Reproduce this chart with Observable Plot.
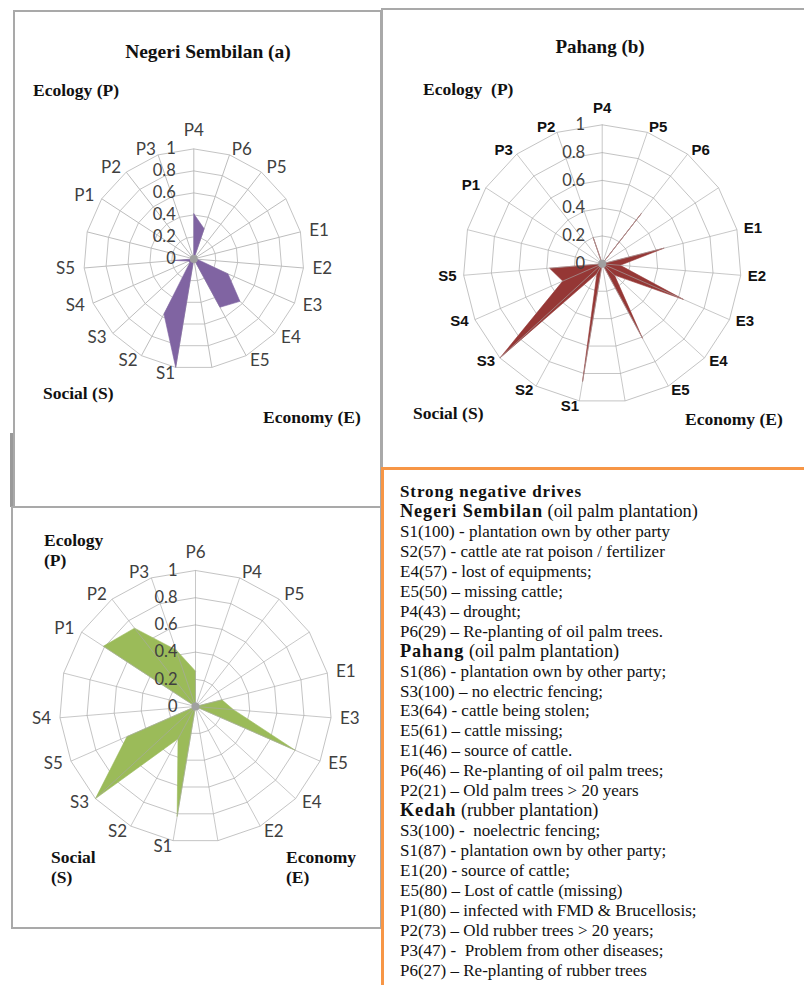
<!DOCTYPE html>
<html><head><meta charset="utf-8">
<script src="https://cdn.jsdelivr.net/npm/d3@7"></script>
<script src="https://cdn.jsdelivr.net/npm/@observablehq/plot@0.6"></script>
<style>
html,body{margin:0;padding:0;background:#fff;}
body{width:804px;height:985px;position:relative;overflow:hidden;}
.abs{position:absolute;}
.serifb{font-family:"Liberation Serif","Times New Roman",serif;font-weight:bold;color:#111;white-space:nowrap;line-height:20px;}
#notes{position:absolute;left:400px;top:482px;font-family:"Liberation Serif","Times New Roman",serif;font-size:17px;line-height:19.95px;color:#111;white-space:nowrap;}
#notes .h{font-size:18.3px;}
#notes b{letter-spacing:0.9px;}
svg{position:absolute;}
</style></head>
<body>
<div class="abs" style="left:13px;top:10px;width:365px;height:494px;border:2px solid #a9a9a9;"></div>
<div class="abs" style="left:10px;top:433px;width:3px;height:74px;background:#9a9a9a;"></div>
<div class="abs" style="left:11px;top:506px;width:367px;height:419px;border:2px solid #a9a9a9;"></div>
<div class="abs" style="left:381px;top:8px;width:430px;height:470px;border-left:2px solid #a9a9a9;border-top:2px solid #a9a9a9;"></div>
<div class="abs" style="left:381px;top:467px;width:430px;height:530px;border-left:3px solid #F79646;border-top:3px solid #F79646;"></div>
<div id="charts"></div>

<div class="abs serifb" style="left:208px;top:42px;font-size:19.5px;transform:translateX(-50%);">Negeri Sembilan (a)</div>
<div class="abs serifb" style="left:33px;top:80px;font-size:17.5px;">Ecology (P)</div>
<div class="abs serifb" style="left:43px;top:383px;font-size:17.5px;">Social (S)</div>
<div class="abs serifb" style="left:263px;top:407px;font-size:17.5px;">Economy (E)</div>

<div class="abs serifb" style="left:600px;top:37px;font-size:19px;transform:translateX(-50%);">Pahang (b)</div>
<div class="abs serifb" style="left:423px;top:79px;font-size:17.5px;">Ecology&nbsp; (P)</div>
<div class="abs serifb" style="left:413px;top:403px;font-size:17.5px;">Social (S)</div>
<div class="abs serifb" style="left:685px;top:409px;font-size:17.5px;">Economy (E)</div>

<div class="abs serifb" style="left:44px;top:530px;font-size:17.5px;">Ecology<br>(P)</div>
<div class="abs serifb" style="left:51px;top:847px;font-size:17.5px;">Social<br>(S)</div>
<div class="abs serifb" style="left:286px;top:847px;font-size:17.5px;">Economy<br>(E)</div>

<div id="notes">
<div><b>Strong negative drives</b></div>
<div class="h"><b>Negeri Sembilan</b> (oil palm plantation)</div>
<div>S1(100) - plantation own by other party</div>
<div>S2(57) - cattle ate rat poison / fertilizer</div>
<div>E4(57) - lost of equipments;</div>
<div>E5(50) – missing cattle;</div>
<div>P4(43) – drought;</div>
<div>P6(29) – Re-planting of oil palm trees.</div>
<div class="h"><b>Pahang</b> (oil palm plantation)</div>
<div>S1(86) - plantation own by other party;</div>
<div>S3(100) – no electric fencing;</div>
<div>E3(64) - cattle being stolen;</div>
<div>E5(61) – cattle missing;</div>
<div>E1(46) – source of cattle.</div>
<div>P6(46) – Re-planting of oil palm trees;</div>
<div>P2(21) – Old palm trees &gt; 20 years</div>
<div class="h"><b>Kedah</b> (rubber plantation)</div>
<div>S3(100) -&nbsp; noelectric fencing;</div>
<div>S1(87) - plantation own by other party;</div>
<div>E1(20) - source of cattle;</div>
<div>E5(80) – Lost of cattle (missing)</div>
<div>P1(80) – infected with FMD &amp; Brucellosis;</div>
<div>P2(73) – Old rubber trees &gt; 20 years;</div>
<div>P3(47) -&nbsp; Problem from other diseases;</div>
<div>P6(27) – Re-planting of rubber trees</div>
</div>

<script>
// ---- data ----
const ticks = [0, 0.2, 0.4, 0.6, 0.8, 1];
const tickLabels = ["0", "0.2", "0.4", "0.6", "0.8", "1"];

// Negeri Sembilan (a)
const axesA = ["P4","P6","P5","","E1","E2","E3","E4","E5","","S1","S2","S3","S4","S5","","P1","P2","P3"];
const valuesA = [0.41,0.29,0,0,0,0.03,0.34,0.57,0.50,0,1.0,0.57,0.05,0.05,0.17,0,0,0,0];

// Pahang (b)
const axesB = ["P4","P5","P6","","E1","E2","E3","E4","E5","","S1","S2","S3","S4","S5","","P1","P3","P2"];
const valuesB = [0,0,0.46,0,0.46,0.13,0.64,0.12,0.61,0,0.86,0.08,1.0,0.31,0.38,0,0,0,0.2];

// Kedah (c)
const axesC = ["P6","P4","P5","","E1","E3","E5","E4","E2","","S1","S2","S3","S5","S4","","P1","P2","P3"];
const valuesC = [0.26,0,0,0,0.2,0.28,0.8,0,0,0,0.82,0.27,1.0,0.55,0,0,0.81,0.73,0.44];

function radar(o) {
  const n = o.axes.length;
  const ang = i => (i % n) * 2 * Math.PI / n;
  const rMax = ticks[ticks.length - 1];
  const r0 = ticks[0];
  const poly = o.values.map((v, i) => ({x: v * Math.sin(ang(i)), y: v * Math.cos(ang(i))}));
  poly.push(poly[0]);
  const rings = ticks.slice(1).flatMap(t => d3.range(n + 1).map(i => ({t, x: t * Math.sin(ang(i)), y: t * Math.cos(ang(i))})));
  const spokes = o.axes.map((a, i) => ({x1: r0, y1: r0, x2: rMax * Math.sin(ang(i)), y2: rMax * Math.cos(ang(i))}));
  const labels = o.axes.map((a, i) => {
    const s = Math.sin(ang(i)), c = Math.cos(ang(i));
    let side = Math.abs(s) < 0.05 ? 0 : Math.sign(s);
    const gap = side === 0 ? 0 : Math.max(-2, o.gapK * Math.abs(s) - 1);
    const dyUp = side === 0 ? o.topOff : o.vK * c;
    return {label: a, side, lx: rMax * s + side * gap / o.R, ly: rMax * c + dyUp / o.R};
  }).filter(d => d.label !== "");
  const tickRows = ticks.map((t, i) => ({x: r0 - o.tickOff / o.R, y: t, label: tickLabels[i]}));

  const lab = (rows, anchor) => Plot.text(rows, {x: "lx", y: "ly", text: "label", textAnchor: anchor, lineAnchor: "middle",
    fontSize: o.labelSize, fontWeight: o.labelWeight, fontFamily: o.labelFont, fill: o.labelColor});
  const gridSpokes = Plot.link(spokes, {x1: "x1", y1: "y1", x2: "x2", y2: "y2", stroke: "#bdbdbd", strokeWidth: 1});
  const marks = [
    Plot.line(rings, {x: "x", y: "y", z: "t", stroke: "#c4c4c4", strokeWidth: 1}),
  ];
  if (!o.gridOnTop) marks.push(gridSpokes);
  marks.push(Plot.line(poly, {x: "x", y: "y", fill: o.fill, stroke: o.fill, strokeWidth: 0.6}));
  if (o.gridOnTop) marks.push(Plot.link(spokes, {x1: "x1", y1: "y1", x2: "x2", y2: "y2", stroke: "#a8a8a8", strokeWidth: 0.8, strokeOpacity: 0.8}));
  marks.push(Plot.dot([{x: r0, y: r0}], {x: "x", y: "y", r: 4, fill: "#a0a0a0"}));
  marks.push(lab(labels.filter(d => d.side > 0), "start"));
  marks.push(lab(labels.filter(d => d.side < 0), "end"));
  marks.push(lab(labels.filter(d => d.side === 0), "middle"));
  marks.push(Plot.text(tickRows, {x: "x", y: "y", text: "label", textAnchor: "end", lineAnchor: "middle",
    fontSize: 16.5, fontFamily: "Lato, 'Open Sans', sans-serif", fill: "#404040"}));

  const svg = Plot.plot({
    width: o.width, height: o.height, margin: 0,
    x: {domain: [(o.left - o.cx) / o.R, (o.left + o.width - o.cx) / o.R], axis: null},
    y: {domain: [(o.cy - (o.top + o.height)) / o.R, (o.cy - o.top) / o.R], axis: null},
    style: {background: "transparent", overflow: "visible"},
    marks
  });
  svg.style.position = "absolute";
  svg.style.left = o.left + "px";
  svg.style.top = o.top + "px";
  svg.style.maxWidth = "none";
  document.getElementById("charts").appendChild(svg);
}

radar({axes: axesA, values: valuesA, R: 110, cx: 193.3, cy: 258.4, left: 15, top: 12, width: 363, height: 490,
  fill: "#8064A2", gridOnTop: false, labelFont: "Lato, 'Open Sans', sans-serif", labelWeight: "normal", labelSize: 17,
  labelColor: "#404040", gapK: 10, vK: 6, topOff: 18, tickOff: 18});
radar({axes: axesB, values: valuesB, R: 139, cx: 601.7, cy: 263.3, left: 383, top: 10, width: 421, height: 456,
  fill: "#953735", gridOnTop: true, labelFont: "'Liberation Sans', Arial, sans-serif", labelWeight: "bold", labelSize: 15,
  labelColor: "#111", gapK: 8, vK: 5, topOff: 17, tickOff: 17});
radar({axes: axesC, values: valuesC, R: 136, cx: 195, cy: 706, left: 13, top: 508, width: 365, height: 417,
  fill: "#9BBB59", gridOnTop: true, labelFont: "Lato, 'Open Sans', sans-serif", labelWeight: "normal", labelSize: 17,
  labelColor: "#404040", gapK: 10, vK: 6, topOff: 18, tickOff: 18});
</script>
</body></html>
